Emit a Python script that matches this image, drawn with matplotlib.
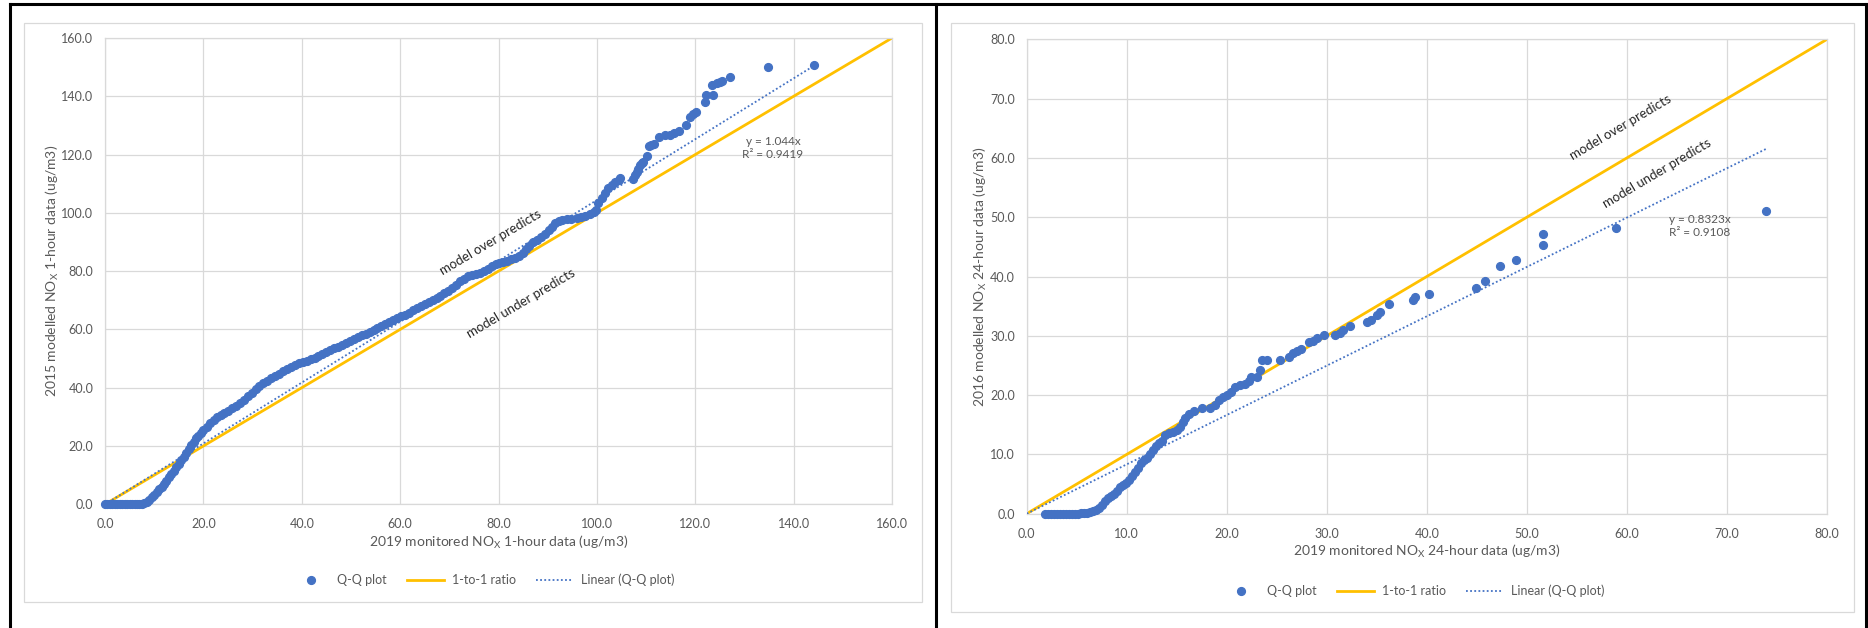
import matplotlib
matplotlib.use("Agg")
import matplotlib.pyplot as plt
from matplotlib.lines import Line2D
from matplotlib.patches import Rectangle

plt.rcParams['font.family'] = ['Lato', 'DejaVu Sans']

# ---- 1-hour Q-Q data (2019 monitored vs 2015 modelled, ug/m3) ----
hour_monitored = [
    0.0, 0.5, 1.0, 1.5, 2.0, 2.5, 3.0, 3.5, 4.0, 4.5, 5.0, 5.5, 6.0, 6.5, 7.0, 7.5, 8.0,
    8.5, 9.0, 9.5, 10.0, 10.5, 11.0, 11.5, 12.0, 12.5, 13.0, 13.5, 14.0, 14.5, 15.0, 15.5,
    16.0, 16.5, 17.0, 17.5, 18.0, 18.5, 19.0, 19.5, 20.0, 20.7, 21.4, 22.1, 22.8, 23.5,
    24.2, 25.0, 25.8, 26.6, 27.4, 28.2, 29.0, 29.8, 30.6, 31.4, 32.2, 33.0, 33.8, 34.6,
    35.4, 36.2, 37.0, 37.8, 38.6, 39.4, 40.2, 41.0, 41.8, 42.6, 43.4, 44.2, 45.0, 45.8,
    46.6, 47.4, 48.2, 49.0, 49.8, 50.6, 51.4, 52.2, 53.0, 53.8, 54.6, 55.4, 56.2, 57.0,
    57.8, 58.6, 59.4, 60.2, 61.0, 61.8, 62.6, 63.4, 64.2, 65.0, 65.8, 66.6, 67.4, 68.2,
    69.0, 69.8, 70.6, 71.4, 72.2, 73.0, 73.8, 74.6, 75.4, 76.2, 77.0, 77.8, 78.6, 79.4,
    80.2, 81.0, 81.8, 82.6, 83.4, 84.2, 85.0, 85.6, 86.2, 87.0, 87.8, 88.6, 89.4, 90.2,
    90.8, 91.5, 92.2, 93.0, 93.9, 94.8, 95.9, 96.8, 97.6, 98.6, 99.4, 99.9,
    100.3, 101.0, 101.6, 102.3, 103.0, 103.7, 104.4, 104.7, 107.4, 107.8, 108.1, 108.4,
    108.7, 109.1, 109.4, 110.1, 110.6, 111.1, 111.6, 112.7, 113.8, 114.9, 115.7, 116.6,
    118.2, 119.0, 119.6, 120.1, 122.0, 122.2, 123.7, 123.5, 124.4, 125.0, 125.4, 127.1,
    134.7, 144.1,
]
hour_modelled = [
    0.0, 0.0, 0.0, 0.0, 0.0, 0.0, 0.0, 0.0, 0.0, 0.0, 0.0, 0.0, 0.0, 0.0, 0.0, 0.1, 0.3,
    0.9, 1.6, 2.4, 3.3, 4.3, 5.2, 6.1, 7.0, 8.1, 9.2, 10.3, 11.5, 12.7, 13.9, 15.1,
    16.4, 17.6, 18.9, 20.2, 21.4, 22.6, 23.6, 24.6, 25.5, 26.6, 27.8, 28.9, 29.8, 30.7,
    31.4, 32.1, 32.9, 33.8, 34.8, 35.9, 37.0, 38.2, 39.4, 40.5, 41.5, 42.4, 43.2, 44.0,
    44.8, 45.6, 46.4, 47.1, 47.8, 48.4, 48.9, 49.3, 49.7, 50.2, 50.9, 51.6, 52.4, 53.1,
    53.6, 54.1, 54.8, 55.5, 56.2, 56.8, 57.4, 58.0, 58.6, 59.2, 59.8, 60.5, 61.3, 62.0,
    62.7, 63.3, 63.9, 64.5, 65.1, 65.8, 66.5, 67.3, 68.0, 68.7, 69.4, 70.0, 70.7, 71.5,
    72.4, 73.3, 74.2, 75.4, 76.5, 77.4, 78.2, 78.7, 79.1, 79.4, 80.0, 80.8, 81.7, 82.3,
    82.7, 83.1, 83.6, 84.1, 84.6, 85.2, 86.2, 87.5, 88.8, 89.9, 90.6, 91.7, 92.9, 94.2,
    95.3, 96.4, 97.3, 97.7, 97.9, 98.0, 98.2, 98.5, 98.9, 99.7, 100.4, 101.0,
    103.3, 105.0, 106.7, 108.4, 109.6, 110.6, 111.3, 111.9, 111.5, 113.0, 114.1, 115.2,
    116.4, 117.0, 117.6, 119.5, 122.9, 123.4, 123.8, 126.1, 126.7, 126.7, 127.3, 128.2,
    130.2, 133.0, 133.9, 134.7, 138.2, 140.5, 140.5, 144.0, 144.5, 144.8, 145.1, 146.6,
    150.0, 150.7,
]
hour_slope = 1.044
hour_r2 = 0.9419

# ---- 24-hour Q-Q data (2019 monitored vs 2016 modelled, ug/m3) ----
day_monitored = [
    1.8, 2.1, 2.4, 2.7, 3.0, 3.3, 3.6, 3.9, 4.2, 4.5, 4.8, 5.1, 5.4, 5.7, 6.0, 6.3, 6.6, 6.9,
    7.2, 7.5, 7.8, 8.1, 8.4, 8.7, 9.0, 9.3, 9.6, 9.9, 10.2, 10.5, 10.8, 11.1, 11.4, 11.7,
    12.0, 12.3, 12.6, 12.9, 13.2, 13.5, 13.8, 14.2, 14.6, 15.0, 15.3, 15.6, 15.8, 16.2,
    16.7, 17.5, 18.3, 18.8, 19.2, 19.6, 20.0, 20.4, 20.8, 21.3, 21.8, 22.2, 22.4, 23.0,
    23.3, 23.5, 24.0, 25.3, 26.2, 26.6, 27.0, 27.4, 28.2, 28.6, 29.0, 29.7, 30.8, 31.3,
    31.6, 32.3, 34.0, 34.4, 35.0, 35.3, 36.2, 38.65, 38.8, 40.25, 44.9, 45.8, 47.3, 48.9,
    51.6, 51.6, 58.9, 73.9,
]
day_modelled = [
    0.0, 0.0, 0.0, 0.0, 0.0, 0.0, 0.0, 0.0, 0.0, 0.0, 0.0, 0.0, 0.1, 0.1, 0.2, 0.3, 0.4, 0.6,
    1.0, 1.5, 2.2, 2.7, 3.0, 3.4, 3.9, 4.5, 4.8, 5.1, 5.6, 6.3, 7.0, 7.7, 8.5, 9.0,
    9.4, 10.0, 10.8, 11.5, 11.9, 12.2, 13.3, 13.6, 13.8, 14.1, 14.6, 15.4, 16.2, 16.8,
    17.4, 17.8, 17.8, 18.4, 19.1, 19.6, 20.0, 20.5, 21.3, 21.7, 21.8, 22.3, 23.0, 23.0,
    24.2, 25.9, 26.0, 25.9, 26.4, 27.1, 27.5, 27.7, 28.9, 29.2, 29.6, 30.2, 30.1, 30.4,
    31.0, 31.6, 32.4, 32.7, 33.5, 34.0, 35.4, 36.0, 36.5, 37.0, 38.1, 39.2, 41.8, 42.7,
    45.3, 47.1, 48.2, 51.0,
]
day_slope = 0.8323
day_r2 = 0.9108

W, H = 1868, 628
BLUE = '#4472C4'
GOLD = '#FFC000'
GRID = '#D9D9D9'
TXT = '#595959'

fig = plt.figure(figsize=(W / 100, H / 100), dpi=100)


def fx(px):
    return px / W


def fy(py):
    return 1 - py / H


def panel(box, xmax, step, x, y, slope, r2, xtitle, ytitle,
          over_xy, under_xy, eq_xy, legend_xy, xtitle_y, ytitle_x, frame):
    l, t, r, b = box
    ax = fig.add_axes([fx(l), fy(b), fx(r) - fx(l), fy(t) - fy(b)])
    ax.set_xlim(0, xmax)
    ax.set_ylim(0, xmax)
    ticks = [i * step for i in range(int(round(xmax / step)) + 1)]
    ax.set_xticks(ticks)
    ax.set_yticks(ticks)
    ax.set_xticklabels([f"{v:.1f}" for v in ticks])
    ax.set_yticklabels([f"{v:.1f}" for v in ticks])
    ax.tick_params(length=0, colors=TXT, labelsize=9)
    ax.tick_params(axis='x', pad=10)
    ax.tick_params(axis='y', pad=8.5)
    ax.grid(True, color=GRID, lw=0.9)
    ax.set_axisbelow(True)
    for s in ax.spines.values():
        s.set_color(GRID)
        s.set_linewidth(0.9)

    ax.plot([0, xmax], [0, xmax], color=GOLD, lw=2.0, solid_capstyle='butt', zorder=2)
    xend = max(x)
    ax.plot([0, xend], [0, slope * xend], color=BLUE, lw=1.3,
            linestyle=(0, (1, 1.3)), zorder=3)
    ax.plot(x, y, 'o', color=BLUE, ms=5.6, mec=BLUE, zorder=4, clip_on=False)

    ax.text(over_xy[0], over_xy[1], 'model over predicts', rotation=45,
            transform_rotates_text=True, rotation_mode='anchor',
            ha='center', va='center', fontsize=9.5, color='#262626', zorder=5)
    ax.text(under_xy[0], under_xy[1], 'model under predicts', rotation=45,
            transform_rotates_text=True, rotation_mode='anchor',
            ha='center', va='center', fontsize=9.5, color='#262626', zorder=5)
    ax.text(eq_xy[0], eq_xy[1], f"y = {slope}x\nR\u00b2 = {r2}", ha='center',
            va='center', fontsize=8.5, color=TXT, linespacing=1.25, zorder=5)

    fig.text(fx((l + r) / 2), fy(xtitle_y), xtitle, ha='center', va='center',
             fontsize=10, color=TXT)
    fig.text(fx(ytitle_x), fy((t + b) / 2), ytitle, ha='center', va='center',
             rotation=90, fontsize=10, color=TXT)

    handles = [
        Line2D([], [], marker='o', ls='none', color=BLUE, ms=5.6),
        Line2D([], [], color=GOLD, lw=2.0),
        Line2D([], [], color=BLUE, lw=1.3, linestyle=(0, (1, 1.3))),
    ]
    labels = ['Q-Q plot', '1-to-1 ratio', 'Linear (Q-Q plot)']
    fig.legend(handles, labels, loc='center',
               bbox_to_anchor=(fx(legend_xy[0]), fy(legend_xy[1])), ncol=3,
               frameon=False, fontsize=9, labelcolor=TXT, handlelength=3.0,
               handletextpad=0.6, columnspacing=1.6)

    fl, ft, fr, fb = frame
    fig.add_artist(Rectangle((fx(fl), fy(fb)), fx(fr) - fx(fl), fy(ft) - fy(fb),
                             transform=fig.transFigure, fill=False,
                             edgecolor=GRID, lw=0.9))
    return ax


panel((105, 38, 892, 504.3), 160.0, 20.0, hour_monitored, hour_modelled,
      hour_slope, hour_r2,
      r"2019 monitored NO$_\mathregular{X}$ 1-hour data (ug/m3)",
      r"2015 modelled NO$_\mathregular{X}$ 1-hour data (ug/m3)",
      (78.5, 89.7), (84.6, 69.1), (135.8, 122.3), (483, 580), 542.7, 52,
      (24, 23, 922, 602))

panel((1026.7, 39.3, 1827, 513.7), 80.0, 10.0, day_monitored, day_modelled,
      day_slope, day_r2,
      r"2019 monitored NO$_\mathregular{X}$ 24-hour data (ug/m3)",
      r"2016 modelled NO$_\mathregular{X}$ 24-hour data (ug/m3)",
      (59.4, 65.2), (63.0, 57.4), (67.3, 48.5), (1413, 591), 551.7, 980,
      (951, 23, 1854, 612))

# black table frame round the two charts
for xs, ys in [((9.5, 1866), (4, 4)), ((9.5, 9.5), (4, 628)),
               ((936.5, 936.5), (4, 628)), ((1866, 1866), (4, 628))]:
    fig.add_artist(Line2D([fx(v) for v in xs], [fy(v) for v in ys],
                          transform=fig.transFigure, color='black', lw=2.2))

fig.savefig('out.png', dpi=100, facecolor='white')
